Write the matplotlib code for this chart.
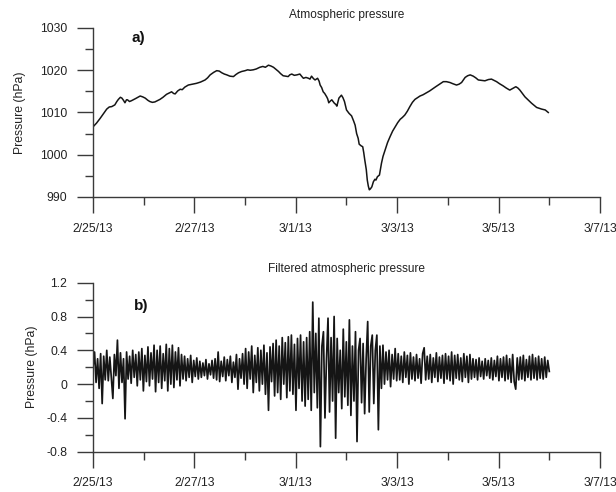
import pandas as pd
import matplotlib
matplotlib.use('Agg')
import matplotlib.pyplot as plt
import matplotlib.dates as mdates
from matplotlib.ticker import MultipleLocator, FuncFormatter

START = pd.Timestamp('2013-02-25')
END = pd.Timestamp('2013-03-07')

# a) atmospheric pressure (days after 2/25/13, hPa)
press_days = [
    0.00, 0.07, 0.14, 0.20, 0.27, 0.32, 0.37, 0.43, 0.47, 0.50,
    0.54, 0.57, 0.60, 0.63, 0.66, 0.68, 0.72, 0.76, 0.84, 0.93,
    0.98, 1.03, 1.08, 1.12, 1.17, 1.22, 1.27, 1.32, 1.38, 1.45,
    1.50, 1.55, 1.59, 1.62, 1.67, 1.72, 1.76, 1.81, 1.85, 1.88,
    1.96, 2.04, 2.12, 2.21, 2.26, 2.31, 2.38, 2.44, 2.49, 2.54,
    2.59, 2.64, 2.70, 2.77, 2.82, 2.87, 2.93, 3.00, 3.05, 3.10,
    3.16, 3.22, 3.29, 3.35, 3.40, 3.46, 3.51, 3.56, 3.61, 3.66,
    3.70, 3.75, 3.80, 3.85, 3.88, 3.92, 3.97, 4.02, 4.08, 4.12,
    4.15, 4.20, 4.25, 4.28, 4.31, 4.35, 4.38, 4.43, 4.46, 4.48,
    4.51, 4.54, 4.57, 4.61, 4.63, 4.65, 4.68, 4.71, 4.74, 4.76,
    4.79, 4.81, 4.83, 4.85, 4.90, 4.93, 4.96, 5.00, 5.05, 5.10,
    5.14, 5.17, 5.20, 5.23, 5.25, 5.29, 5.32, 5.34, 5.36, 5.39,
    5.41, 5.43, 5.45, 5.47, 5.50, 5.53, 5.56, 5.58, 5.61, 5.65,
    5.69, 5.72, 5.76, 5.81, 5.86, 5.91, 5.96, 6.01, 6.06, 6.10,
    6.15, 6.20, 6.25, 6.30, 6.35, 6.40, 6.45, 6.51, 6.58, 6.64,
    6.71, 6.76, 6.81, 6.86, 6.91, 6.97, 7.04, 7.10, 7.17, 7.22,
    7.27, 7.31, 7.34, 7.39, 7.44, 7.50, 7.55, 7.60, 7.66, 7.73,
    7.80, 7.86, 7.91, 7.96, 8.02, 8.09, 8.15, 8.22, 8.28, 8.34,
    8.38, 8.42, 8.47, 8.52, 8.58, 8.65, 8.70, 8.75, 8.80, 8.85,
    8.92, 8.98,
]
press_hpa = [
    1006.6, 1007.5, 1008.6, 1009.6, 1010.8, 1011.3, 1011.4, 1011.8, 1012.6, 1013.1,
    1013.6, 1013.4, 1012.9, 1012.3, 1013.0, 1013.0, 1012.6, 1012.8, 1013.3, 1013.9,
    1013.7, 1013.4, 1012.9, 1012.6, 1012.4, 1012.5, 1012.8, 1013.1, 1013.6, 1014.3,
    1014.6, 1014.9, 1014.5, 1014.4, 1015.1, 1015.5, 1015.4, 1016.0, 1016.3, 1016.5,
    1016.7, 1016.9, 1017.2, 1017.7, 1018.2, 1018.9, 1019.5, 1019.9, 1019.8, 1019.4,
    1019.1, 1018.9, 1018.6, 1018.5, 1019.0, 1019.4, 1019.7, 1019.9, 1020.1, 1020.0,
    1020.1, 1020.3, 1020.7, 1020.9, 1020.7, 1021.2, 1021.0, 1020.7, 1020.2, 1019.7,
    1019.2, 1018.7, 1018.6, 1018.5, 1018.9, 1019.1, 1018.8, 1018.9, 1019.1, 1018.5,
    1018.1, 1018.3, 1018.1, 1017.9, 1018.6, 1018.0, 1017.7, 1018.1, 1017.4, 1016.5,
    1015.9, 1014.9, 1014.5, 1013.7, 1013.2, 1012.3, 1012.7, 1013.0, 1012.5, 1012.2,
    1011.9, 1011.5, 1012.5, 1013.4, 1014.1, 1013.5, 1012.6, 1010.6, 1009.8, 1009.2,
    1008.0, 1007.0, 1005.0, 1003.9, 1002.5, 1002.1, 1001.9, 1000.5, 998.8, 996.5,
    994.0, 992.6, 991.7, 991.9, 992.4, 993.6, 994.2, 994.0, 994.8, 995.2,
    998.0, 999.6, 1001.1, 1002.9, 1004.3, 1005.6, 1006.6, 1007.6, 1008.4, 1008.8,
    1009.4, 1010.3, 1011.4, 1012.4, 1013.1, 1013.5, 1013.9, 1014.2, 1014.7, 1015.1,
    1015.7, 1016.1, 1016.5, 1016.9, 1017.3, 1017.3, 1017.1, 1016.8, 1016.5, 1016.7,
    1017.1, 1017.8, 1018.3, 1018.7, 1018.9, 1018.6, 1018.2, 1017.7, 1017.6, 1017.5,
    1017.8, 1017.9, 1017.6, 1017.3, 1016.8, 1016.3, 1015.8, 1015.3, 1015.7, 1016.1,
    1015.8, 1015.3, 1014.5, 1013.7, 1013.0, 1012.2, 1011.7, 1011.2, 1011.0, 1010.8,
    1010.6, 1010.0,
]

# b) filtered pressure (hPa), estimated samples from 2/25/13 to 3/6/13
filt_hpa = [
    0.20, 0.38, 0.02, 0.30, -0.05, 0.36, -0.23, 0.33, 0.05, 0.40,
    0.04, 0.32, 0.08, -0.17, 0.35, 0.10, 0.52, -0.05, 0.37, 0.02,
    0.30, -0.41, 0.38, 0.06, 0.33, 0.01, 0.40, 0.08, 0.35, -0.02,
    0.38, 0.05, 0.42, -0.08, 0.34, 0.03, 0.44, -0.02, 0.37, 0.06,
    0.46, -0.09, 0.40, 0.02, 0.45, -0.05, 0.36, 0.04, 0.47, -0.08,
    0.42, 0.00, 0.46, -0.04, 0.38, 0.05, 0.43, -0.02, 0.35, 0.06,
    0.33, 0.04, 0.30, 0.08, 0.34, 0.02, 0.28, 0.09, 0.31, 0.06,
    0.27, 0.08, 0.25, 0.10, 0.29, 0.06, 0.24, 0.11, 0.28, 0.07,
    0.30, 0.05, 0.38, 0.03, 0.27, 0.09, 0.32, 0.04, 0.29, 0.10,
    0.33, 0.02, 0.26, 0.08, 0.35, -0.06, 0.30, 0.07, 0.36, 0.00,
    0.42, -0.05, 0.38, 0.06, 0.45, -0.10, 0.34, 0.02, 0.43, -0.08,
    0.40, 0.00, 0.46, -0.12, 0.37, -0.31, 0.44, 0.03, 0.48, -0.14,
    0.52, -0.10, 0.45, -0.18, 0.55, 0.00, 0.49, -0.16, 0.56, -0.08,
    0.58, -0.12, 0.47, -0.31, 0.54, -0.05, 0.58, -0.20, 0.50, -0.26,
    0.55, -0.18, 0.62, -0.31, 0.97, -0.10, 0.60, -0.28, 0.78, -0.74,
    0.45, 0.62, -0.40, 0.30, 0.78, -0.33, 0.55, -0.20, 0.80, -0.64,
    0.54, -0.10, 0.40, -0.29, 0.65, -0.15, 0.50, -0.25, 0.76, -0.37,
    0.45, -0.20, 0.62, -0.68, 0.40, 0.54, -0.22, 0.48, -0.35, 0.30,
    0.74, -0.33, 0.45, 0.58, -0.23, 0.40, 0.58, -0.54, 0.45, -0.05,
    0.46, 0.00, 0.38, 0.05, 0.40, -0.03, 0.35, 0.06, 0.42, 0.04,
    0.36, 0.05, 0.33, 0.02, 0.38, 0.08, 0.34, 0.00, 0.37, 0.06,
    0.32, 0.04, 0.35, 0.07, 0.30, 0.01, 0.36, 0.43, 0.05, 0.33,
    0.06, 0.35, 0.02, 0.31, 0.08, 0.37, 0.03, 0.32, 0.07, 0.34,
    0.01, 0.36, 0.06, 0.33, 0.04, 0.38, 0.00, 0.34, 0.07, 0.35,
    0.05, 0.31, 0.03, 0.36, 0.08, 0.33, 0.02, 0.35, 0.06, 0.30,
    0.08, 0.29, 0.05, 0.31, 0.09, 0.27, 0.06, 0.30, 0.10, 0.28,
    0.07, 0.31, 0.05, 0.28, 0.09, 0.33, 0.04, 0.30, 0.08, 0.32,
    0.04, 0.34, 0.06, 0.30, 0.02, 0.35, 0.03, -0.06, 0.31, 0.05,
    0.32, 0.06, 0.34, 0.04, 0.29, 0.08, 0.33, 0.05, 0.35, 0.07,
    0.31, 0.05, 0.33, 0.07, 0.30, 0.06, 0.32, 0.08, 0.28, 0.15,
]

plt.rcParams['font.family'] = ['Liberation Sans', 'DejaVu Sans']
plt.rcParams['axes.unicode_minus'] = False

INK = '#151515'
AXC = '#3a3a3a'
TXT = '#222222'


def date_label(x, pos):
    d = mdates.num2date(x)
    return f'{d.month}/{d.day}/{d.year % 100}'


def style_axes(ax, ylabel_x):
    for s in ('top', 'right'):
        ax.spines[s].set_visible(False)
    for s in ('left', 'bottom'):
        ax.spines[s].set_color(AXC)
        ax.spines[s].set_linewidth(1.0)
    ax.set_xlim(START, END)
    ax.xaxis.set_major_locator(mdates.DayLocator(interval=2))
    ax.xaxis.set_minor_locator(mdates.DayLocator())
    ax.xaxis.set_major_formatter(FuncFormatter(date_label))
    ax.tick_params(which='major', length=11.5, width=1.0, color=AXC,
                   labelsize=8.7, labelcolor=TXT, pad=7)
    ax.tick_params(which='minor', length=6, width=1.0, color=AXC)
    ax.set_ylabel('Pressure (hPa)', fontsize=8.8, color=TXT)
    ax.yaxis.set_label_coords(ylabel_x, 0.5)


fig = plt.figure(figsize=(6.16, 4.92), dpi=100)
ax1 = fig.add_axes([0.151, 0.5996, 0.823, 0.3435])
ax2 = fig.add_axes([0.151, 0.0819, 0.823, 0.3435])

# top panel
t1 = START + pd.to_timedelta(press_days, unit='D')
ax1.plot(t1, press_hpa, color=INK, lw=1.1)
ax1.set_ylim(990, 1030)
ax1.yaxis.set_major_locator(MultipleLocator(10))
ax1.yaxis.set_minor_locator(MultipleLocator(5))
style_axes(ax1, -0.132)
ax1.set_title('Atmospheric pressure', fontsize=8.6, color=TXT, pad=7.2)
ax1.text(START + pd.Timedelta(days=0.89), 1027.6, 'a)', fontsize=11,
         fontweight='bold', ha='center', va='center', color='#111111')

# bottom panel
t2 = pd.date_range(START, START + pd.Timedelta(days=9), periods=len(filt_hpa))
ax2.plot(t2, filt_hpa, color=INK, lw=1.25)
ax2.set_ylim(-0.8, 1.2)
ax2.yaxis.set_major_locator(MultipleLocator(0.4))
ax2.yaxis.set_minor_locator(MultipleLocator(0.2))
ax2.yaxis.set_major_formatter(FuncFormatter(lambda v, p: f'{v:.1f}'.rstrip('0').rstrip('.') if abs(v) > 1e-9 else '0'))
style_axes(ax2, -0.108)
ax2.set_title('Filtered atmospheric pressure', fontsize=8.6, color=TXT, pad=7.5)
ax2.text(START + pd.Timedelta(days=0.95), 0.924, 'b)', fontsize=11,
         fontweight='bold', ha='center', va='center', color='#111111')

fig.savefig('out.png', dpi=100)
